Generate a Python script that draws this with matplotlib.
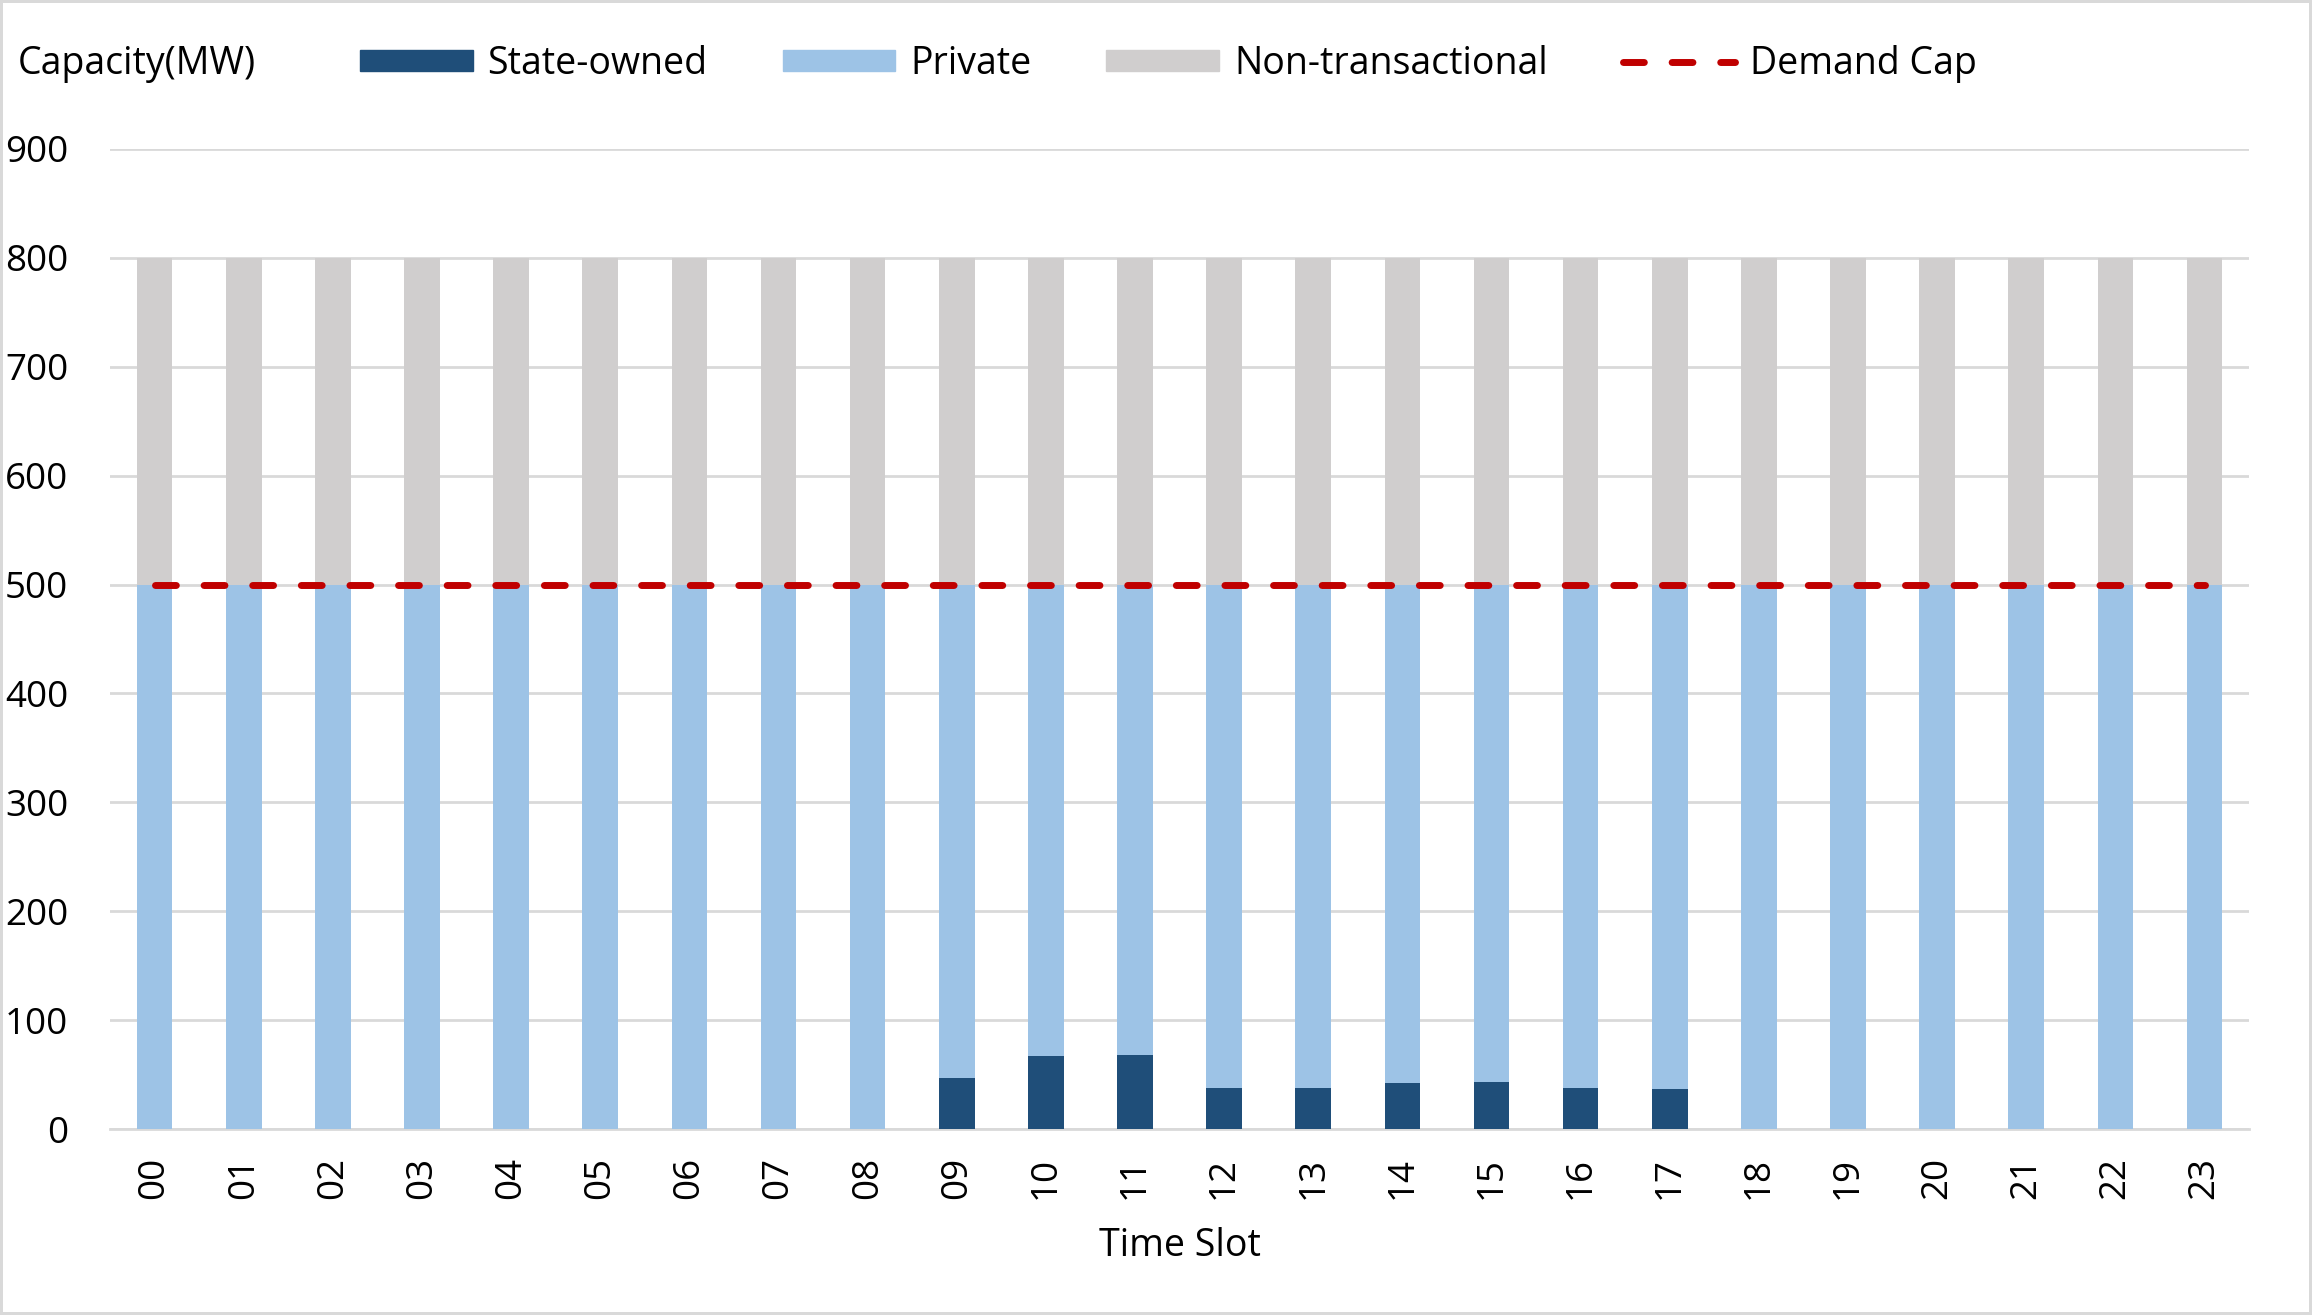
import matplotlib
matplotlib.use('Agg')
import matplotlib.pyplot as plt
from matplotlib.patches import Patch
from matplotlib.lines import Line2D
import numpy as np

plt.rcParams['font.family'] = ['Open Sans', 'DejaVu Sans']

# datos
franjas = ['%02d' % h for h in range(24)]
estatal = [0, 0, 0, 0, 0, 0, 0, 0, 0, 47, 67, 68, 38, 38, 42, 43, 38, 37, 0, 0, 0, 0, 0, 0]
privado = [500 - e for e in estatal]
no_transaccional = [300] * 24
tope_demanda = [500] * 24

c_estatal = '#1F4E79'
c_privado = '#9DC3E6'
c_gris = '#D0CECE'
c_rojo = '#C00000'
guiones = (0, (3.0, 4.0))

fig = plt.figure(figsize=(23.12, 13.15), dpi=100)
fig.patch.set_edgecolor('#D9D9D9')
fig.patch.set_linewidth(3)
ax = fig.add_axes([0.0476, 0.1414, 0.9252, 0.7453])

x = np.arange(len(franjas))
ancho = 0.4
ax.bar(x, estatal, ancho, color=c_estatal, zorder=3)
ax.bar(x, privado, ancho, bottom=estatal, color=c_privado, zorder=3)
base = np.array(estatal) + np.array(privado)
ax.bar(x, no_transaccional, ancho, bottom=base, color=c_gris, zorder=3)
ax.plot(x, tope_demanda, color=c_rojo, linestyle=guiones, linewidth=5,
        dash_capstyle='round', zorder=4)

ax.set_xlim(-0.5, 23.5)
ax.set_ylim(0, 900)
ax.set_yticks(range(0, 901, 100))
ax.set_xticks(x)
ax.set_xticklabels(franjas, rotation=90)
ax.grid(axis='y', color='#D9D9D9', linewidth=2, zorder=0)
for s in ['top', 'right', 'left']:
    ax.spines[s].set_visible(False)
ax.spines['bottom'].set_color('#D9D9D9')
ax.spines['bottom'].set_linewidth(2)
ax.tick_params(axis='both', length=0, labelsize=26.5, colors='#000000')
ax.tick_params(axis='y', pad=30)
ax.tick_params(axis='x', pad=20)
ax.set_xlabel('Time Slot', fontsize=27, labelpad=20)

fig.text(18 / 2312, 1 - 64 / 1315, 'Capacity(MW)', fontsize=27, va='center', ha='left')

manijas = [Patch(color=c_estatal), Patch(color=c_privado), Patch(color=c_gris),
           Line2D([0], [0], color=c_rojo, linestyle=guiones, linewidth=5, dash_capstyle='round')]
etiquetas = ['State-owned', 'Private', 'Non-transactional', 'Demand Cap']
fig.legend(manijas, etiquetas, loc='center left', bbox_to_anchor=(360 / 2312, 1 - 64 / 1315),
           ncol=4, frameon=False, fontsize=27, handlelength=3.0, handleheight=0.5,
           handletextpad=0.4, columnspacing=2.0, borderaxespad=0, borderpad=0)

plt.savefig('out.png', dpi=100, edgecolor=fig.get_edgecolor())
